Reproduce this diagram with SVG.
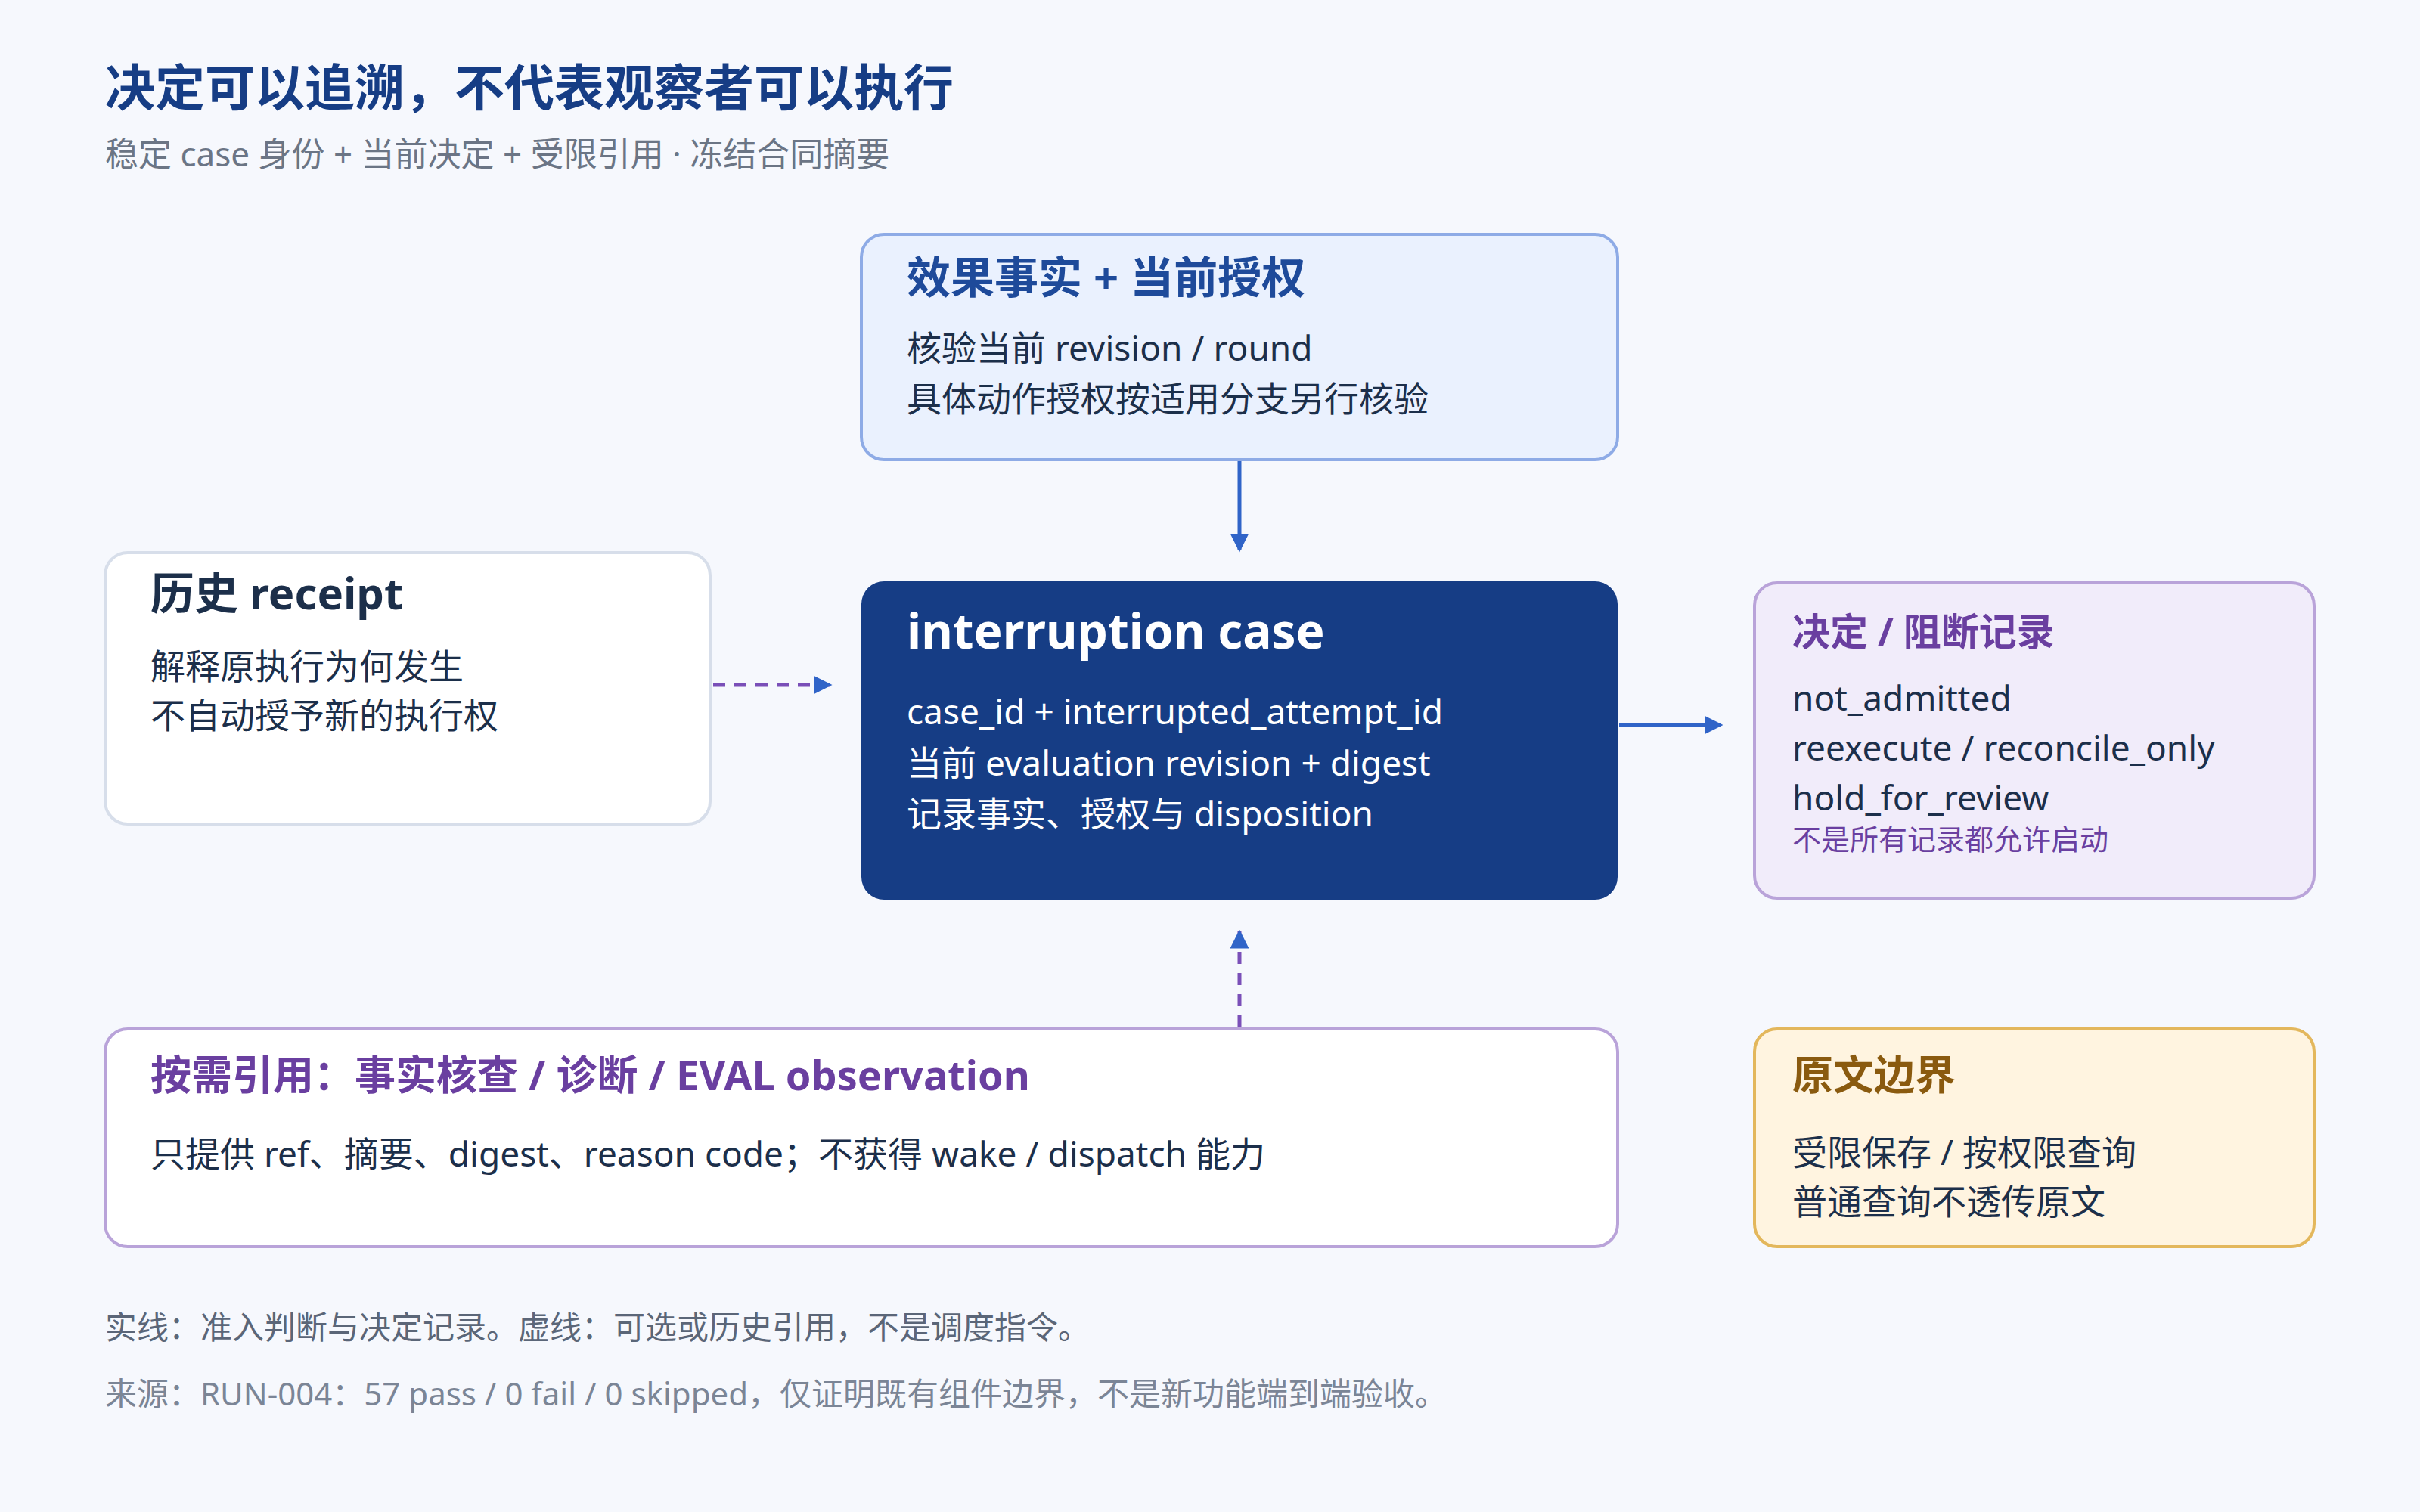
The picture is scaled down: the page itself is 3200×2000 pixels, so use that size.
<svg xmlns="http://www.w3.org/2000/svg" width="3200" height="2000" viewBox="0 0 3200 2000">
<style>
text{font-family:"Noto Sans","Noto Sans CJK SC",sans-serif}
.h{font-weight:700;font-size:58px}
.b{font-size:46px;fill:#1c2f4a}
.w{font-size:46px;fill:#ffffff}
</style>
<defs>
<marker id="ah" viewBox="0 0 10 10" refX="9" refY="5" markerWidth="5" markerHeight="5" markerUnits="strokeWidth" orient="auto"><path d="M0,0 L10,5 L0,10 z" fill="#3064c8"/></marker>
</defs>
<rect width="3200" height="2000" fill="#f6f8fd"/>
<text x="139" y="140" font-size="66" font-weight="700" fill="#163d85">决定可以追溯，不代表观察者可以执行</text>
<text x="139" y="220" font-size="44" fill="#6b7585">稳定 case 身份 + 当前决定 + 受限引用 · 冻结合同摘要</text>
<g id="connectors" fill="none" stroke-width="5">
<line x1="1639" y1="610" x2="1639" y2="728" stroke="#3064c8" marker-end="url(#ah)"/>
<line x1="943" y1="906" x2="1098" y2="906" stroke="#7a4fb8" stroke-dasharray="16 12" marker-end="url(#ah)"/>
<line x1="2141" y1="959" x2="2276" y2="959" stroke="#3064c8" marker-end="url(#ah)"/>
<line x1="1639" y1="1359" x2="1639" y2="1232" stroke="#7a4fb8" stroke-dasharray="16 12" marker-end="url(#ah)"/>
</g>
<g id="top">
<rect x="1139" y="310" width="1000" height="298" rx="30" fill="#eaf1fe" stroke="#8eabe6" stroke-width="4"/>
<text x="1199" y="388" class="h" fill="#1e4a9a">效果事实 + 当前授权</text>
<text x="1199" y="477" class="b">核验当前 revision / round</text>
<text x="1199" y="544" class="b">具体动作授权按适用分支另行核验</text>
</g>
<g id="center">
<rect x="1139" y="769" width="1000" height="421" rx="30" fill="#163d85"/>
<text x="1199" y="858" font-size="64" font-weight="700" fill="#ffffff">interruption case</text>
<text x="1199" y="958" class="w">case_id + interrupted_attempt_id</text>
<text x="1199" y="1026" class="w">当前 evaluation revision + digest</text>
<text x="1199" y="1093" class="w">记录事实、授权与 disposition</text>
</g>
<g id="left">
<rect x="139" y="731" width="800" height="359" rx="30" fill="#ffffff" stroke="#d7deea" stroke-width="4"/>
<text x="199" y="806" class="h" fill="#1c2f4a">历史 receipt</text>
<text x="199" y="898" class="b">解释原执行为何发生</text>
<text x="199" y="963" class="b">不自动授予新的执行权</text>
</g>
<g id="right">
<rect x="2320" y="771" width="740" height="417" rx="30" fill="#f1ecfa" stroke="#b9a3d9" stroke-width="4"/>
<text x="2370" y="854" font-size="50" font-weight="700" fill="#6a3fa0">决定 / 阻断记录</text>
<text x="2370" y="940" class="b">not_admitted</text>
<text x="2370" y="1006" class="b">reexecute / reconcile_only</text>
<text x="2370" y="1072" class="b">hold_for_review</text>
<text x="2370" y="1124" font-size="38" fill="#6a3fa0">不是所有记录都允许启动</text>
</g>
<g id="refs">
<rect x="139" y="1361" width="2000" height="288" rx="30" fill="#ffffff" stroke="#b9a3d9" stroke-width="4"/>
<text x="199" y="1442" font-size="54" font-weight="700" fill="#6a3fa0">按需引用：事实核查 / 诊断 / EVAL observation</text>
<text x="199" y="1543" class="b">只提供 ref、摘要、digest、reason code；不获得 wake / dispatch 能力</text>
</g>
<g id="boundary">
<rect x="2320" y="1361" width="740" height="288" rx="30" fill="#fff4e0" stroke="#e3b75c" stroke-width="4"/>
<text x="2370" y="1442" font-size="54" font-weight="700" fill="#8a5a0f">原文边界</text>
<text x="2370" y="1541" class="b">受限保存 / 按权限查询</text>
<text x="2370" y="1606" class="b">普通查询不透传原文</text>
</g>
<text x="139" y="1771" font-size="42" fill="#5b6678">实线：准入判断与决定记录。虚线：可选或历史引用，不是调度指令。</text>
<text x="139" y="1859" font-size="42" fill="#7b8596">来源：RUN-004：57 pass / 0 fail / 0 skipped，仅证明既有组件边界，不是新功能端到端验收。</text>
</svg>
